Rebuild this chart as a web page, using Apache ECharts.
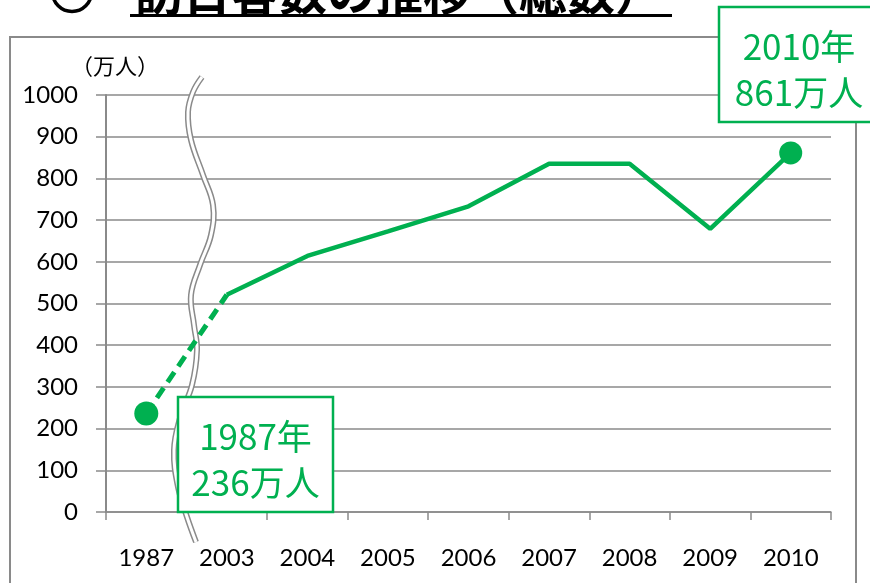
<!DOCTYPE html>
<html>
<head>
<meta charset="utf-8">
<script src="https://cdn.jsdelivr.net/npm/echarts@6/dist/echarts.min.js"></script>
<style>
  html, body { margin: 0; padding: 0; background: #fff; }
  #chart { width: 870px; height: 583px; }
</style>
</head>
<body>
<div id="chart"></div>
<script>
// 年と訪日客数（万人）
const years = ['1987', '2003', '2004', '2005', '2006', '2007', '2008', '2009', '2010'];
const visitors = [236, 521, 614, 673, 733, 835, 835, 679, 861];
const yTicks = [0, 1000, 100]; // min, max, interval
const titleText = '訪日客数の推移（総数）';
const unitText = '（万人）';

const green = '#00b050';
const grey = '#8a8a8a';
const last = years.length - 1;

// 1987→2003 は破線、2003以降は実線
const dashedData = visitors.map((v, i) => (i <= 1 ? v : '-'));
const solidData = visitors.map((v, i) => (i >= 1 ? v : '-'));

// 波線（省略記号）の中心線
const breakPts = [
  [202, 77], [193, 92], [188, 112], [191, 140], [203, 175], [213, 205],
  [211, 235], [200, 265], [191, 295], [194, 325], [197, 350], [192, 385],
  [180, 418], [174, 450], [178, 487], [187, 517], [196, 542]
];

function noteBox(x, y, w, h, i) {
  return [
    { type: 'rect', z: 20, shape: { x: x, y: y, width: w, height: h },
      style: { fill: '#ffffff', stroke: green, lineWidth: 2.5 } },
    { type: 'text', z: 21, x: x + w / 2, y: y + h / 2 + 5,
      style: {
        text: years[i] + '年\n' + visitors[i] + '万人',
        fill: green, font: '35px "Noto Sans CJK JP"',
        align: 'center', verticalAlign: 'middle', lineHeight: 46
      } }
  ];
}

const chart = echarts.init(document.getElementById('chart'));
chart.setOption({
  animation: false,
  grid: { left: 106, right: 39, top: 95, bottom: 71 },
  xAxis: {
    type: 'category',
    data: years,
    boundaryGap: true,
    axisLine: { lineStyle: { color: grey, width: 1.5 } },
    axisTick: { show: true, length: 8, lineStyle: { color: grey, width: 1.5 } },
    axisLabel: { color: '#000', fontSize: 24, fontFamily: 'Lato', margin: 34 },
    splitLine: { show: false }
  },
  yAxis: {
    type: 'value',
    min: yTicks[0], max: yTicks[1], interval: yTicks[2],
    axisLine: { show: true, lineStyle: { color: grey, width: 2 } },
    axisTick: { show: true, length: 10, lineStyle: { color: grey, width: 1.5 } },
    axisLabel: { color: '#000', fontSize: 24, fontFamily: 'Lato', margin: 28,
      formatter: v => String(v) },
    splitLine: { lineStyle: { color: grey, width: 1.5 } }
  },
  series: [
    {
      type: 'line',
      data: dashedData,
      z: 5,
      symbol: 'circle',
      showAllSymbol: true,
      symbolSize: (v, p) => (p.dataIndex === 0 ? 24 : 0),
      itemStyle: { color: green },
      lineStyle: { color: green, width: 5, type: [12, 7], cap: 'butt' }
    },
    {
      type: 'line',
      data: solidData,
      z: 5,
      symbol: 'circle',
      showAllSymbol: true,
      symbolSize: (v, p) => (p.dataIndex === last ? 23 : 0),
      itemStyle: { color: green },
      lineStyle: { color: green, width: 4.5 }
    }
  ],
  graphic: [
    // 外枠
    { type: 'rect', z: 1, shape: { x: 10, y: 37, width: 846, height: 600 },
      style: { fill: null, stroke: grey, lineWidth: 2 } },
    // タイトル（上端で切れている）
    { type: 'circle', z: 1, shape: { cx: 72, cy: -8, r: 19.5 },
      style: { fill: null, stroke: '#000', lineWidth: 3.5 } },
    { type: 'text', z: 1, x: 135, y: -8,
      style: { text: titleText, fill: '#000', font: 'bold 48px "Noto Sans CJK JP"',
        verticalAlign: 'middle', align: 'left' } },
    { type: 'rect', z: 1, shape: { x: 130, y: 14, width: 542, height: 3 },
      style: { fill: '#000' } },
    // 単位
    { type: 'text', z: 1, x: 71, y: 66,
      style: { text: unitText, fill: '#000', font: '22px "Noto Sans CJK JP"',
        verticalAlign: 'middle', align: 'left' } },
    // 波線
    { type: 'polyline', z: 3, shape: { points: breakPts, smooth: 0.4 },
      style: { stroke: grey, lineWidth: 6, fill: null } },
    { type: 'polyline', z: 3, shape: { points: breakPts, smooth: 0.4 },
      style: { stroke: '#fff', lineWidth: 3, fill: null } },
    // 注記
    ...noteBox(178, 397, 155, 115, 0),
    ...noteBox(719, 7, 160, 115, last)
  ]
});
</script>
</body>
</html>
